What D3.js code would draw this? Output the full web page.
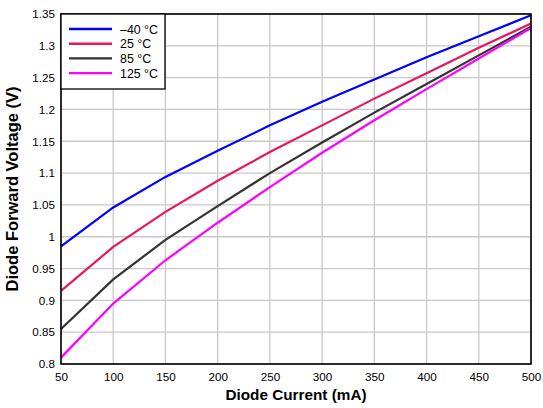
<!DOCTYPE html>
<html>
<head>
<meta charset="utf-8">
<script src="https://cdn.jsdelivr.net/npm/d3@7"></script>
<style>
  body { margin: 0; background: #fff; }
  svg { font-family: "Liberation Sans", Arial, sans-serif; }
</style>
</head>
<body>
<div id="chart"></div>
<script>
// curvas da tensão direta do diodo por temperatura
const correntes = [50, 100, 150, 200, 250, 300, 350, 400, 450, 500];
const temperaturas = ['\u201340 \u00B0C', '25 \u00B0C', '85 \u00B0C', '125 \u00B0C'];
const cores = ['#0000ff', '#e8175d', '#333333', '#ff00ff'];
const vMenos40 = [0.985, 1.046, 1.094, 1.135, 1.175, 1.212, 1.247, 1.282, 1.315, 1.348];
const v25 = [0.915, 0.984, 1.039, 1.088, 1.133, 1.175, 1.217, 1.257, 1.297, 1.335];
const v85 = [0.855, 0.933, 0.995, 1.048, 1.100, 1.148, 1.195, 1.240, 1.285, 1.330];
const v125 = [0.810, 0.895, 0.963, 1.022, 1.078, 1.132, 1.183, 1.232, 1.280, 1.328];
const series = [vMenos40, v25, v85, v125];
const ticksX = [50, 100, 150, 200, 250, 300, 350, 400, 450, 500];
const ticksY = [0.8, 0.85, 0.9, 0.95, 1, 1.05, 1.1, 1.15, 1.2, 1.25, 1.3, 1.35];

const W = 543, H = 408;
const margin = { top: 14, right: 12, bottom: 44, left: 61 };
const width = W - margin.left - margin.right;
const height = H - margin.top - margin.bottom;

const svg = d3.select('#chart').append('svg')
  .attr('width', W).attr('height', H);
const g = svg.append('g').attr('transform', `translate(${margin.left},${margin.top})`);

const x = d3.scaleLinear().domain([50, 500]).range([0, width]);
const y = d3.scaleLinear().domain([0.8, 1.35]).range([height, 0]);

// grade
g.append('g').selectAll('line').data(ticksX).enter().append('line')
  .attr('x1', d => x(d)).attr('x2', d => x(d))
  .attr('y1', 0).attr('y2', height)
  .attr('stroke', '#c8c8c8').attr('stroke-width', 1.3);
g.append('g').selectAll('line').data(ticksY).enter().append('line')
  .attr('x1', 0).attr('x2', width)
  .attr('y1', d => y(d)).attr('y2', d => y(d))
  .attr('stroke', '#c8c8c8').attr('stroke-width', 1.3);

// eixos
const eixoX = g.append('g').attr('transform', `translate(0,${height})`)
  .call(d3.axisBottom(x).tickValues(ticksX).tickSize(0).tickPadding(9).tickFormat(d3.format('d')));
const eixoY = g.append('g')
  .call(d3.axisLeft(y).tickValues(ticksY).tickSize(0).tickPadding(6).tickFormat(d => String(+d.toFixed(2))));
[eixoX, eixoY].forEach(e => {
  e.select('.domain').remove();
  e.selectAll('text').attr('font-size', 11.7).attr('fill', '#000')
    .attr('font-family', '"Liberation Sans", Arial, sans-serif');
});

// linhas
const linha = d3.line().x((d, i) => x(correntes[i])).y(d => y(d));
series.forEach((s, k) => {
  g.append('path').datum(s)
    .attr('fill', 'none').attr('stroke', cores[k]).attr('stroke-width', 2.2)
    .attr('d', linha);
});

// borda
g.append('rect').attr('x', 0).attr('y', 0).attr('width', width).attr('height', height)
  .attr('fill', 'none').attr('stroke', '#000').attr('stroke-width', 1.6);

// legenda
const leg = g.append('g');
leg.append('rect').attr('x', 0).attr('y', 0).attr('width', 104).attr('height', 75)
  .attr('fill', '#fff').attr('stroke', '#000').attr('stroke-width', 1.3);
temperaturas.forEach((t, k) => {
  const yy = 15 + k * 14.7;
  leg.append('line').attr('x1', 8).attr('x2', 51).attr('y1', yy).attr('y2', yy)
    .attr('stroke', cores[k]).attr('stroke-width', 2.4);
  leg.append('text').attr('x', 59).attr('y', yy + 4.5).attr('font-size', 12.4).text(t);
});

// títulos
svg.append('text').attr('x', margin.left + width / 2).attr('y', 400)
  .attr('text-anchor', 'middle').attr('font-size', 15.3).attr('font-weight', 'bold')
  .text('Diode Current (mA)');
svg.append('text').attr('transform', `translate(18,${margin.top + height / 2}) rotate(-90)`)
  .attr('text-anchor', 'middle').attr('font-size', 16.5).attr('font-weight', 'bold')
  .text('Diode Forward Voltage (V)');
</script>
</body>
</html>
